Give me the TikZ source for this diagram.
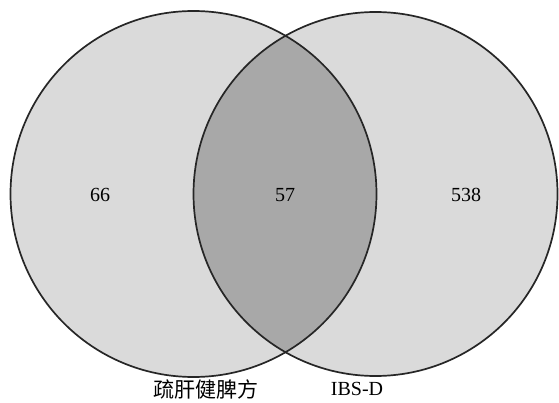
\documentclass[tikz,border=0pt]{standalone}
\usepackage{fontspec}
\setmainfont{Liberation Serif}
\newfontfamily\cjk{Noto Sans CJK SC}
\definecolor{setfill}{RGB}{218,218,218}
\definecolor{lensfill}{RGB}{168,168,168}
\begin{document}
\begin{tikzpicture}[x=1pt,y=1pt,
  setcircle/.style={draw=black!85,line width=1.7pt},
  num/.style={font=\fontsize{20}{24}\selectfont},
  lbl/.style={font=\fontsize{20}{24}\selectfont}]
\useasboundingbox (0,0) rectangle (559,402);
\fill[white] (0,0) rectangle (559,402);
\coordinate (cA) at (193.5,208);
\coordinate (cB) at (375.5,208);
\fill[setfill] (cA) circle (183);
\fill[setfill] (cB) circle (182);
\begin{scope}
  \clip (cA) circle (183);
  \fill[lensfill] (cB) circle (182);
\end{scope}
\draw[setcircle] (cA) circle (183);
\draw[setcircle] (cB) circle (182);
\node[num] (n1) at (100,207) {66};
\node[num] (n2) at (285,207) {57};
\node[num] (n3) at (466,207) {538};
\node[lbl,font=\fontsize{21}{24}\selectfont\cjk] (lA) at (206,13) {疏肝健脾方};
\node[lbl] (lB) at (357,13) {IBS-D};
\end{tikzpicture}
\end{document}
